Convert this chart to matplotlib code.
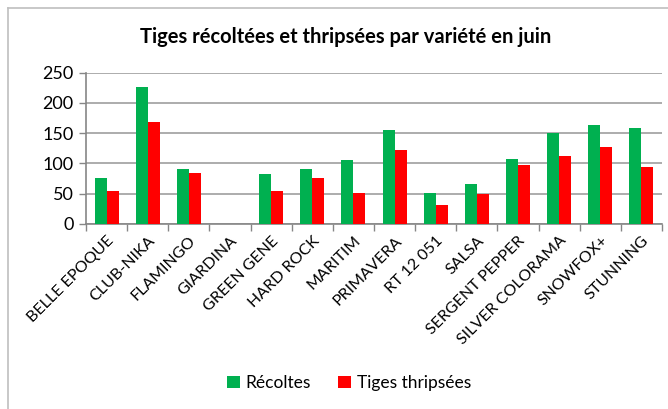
import numpy as np
import matplotlib
matplotlib.use("Agg")
import matplotlib.pyplot as plt
from matplotlib.lines import Line2D

varieties = ["BELLE EPOQUE", "CLUB-NIKA", "FLAMINGO", "GIARDINA", "GREEN GENE",
             "HARD ROCK", "MARITIM", "PRIMAVERA", "RT 12 051", "SALSA",
             "SERGENT PEPPER", "SILVER COLORAMA", "SNOWFOX+", "STUNNING"]
recoltes = [76, 227, 91, 0, 83, 91, 106, 156, 51, 66, 107, 151, 164, 159]
thripsees = [54, 169, 85, 0, 54, 76, 51, 122, 31, 49, 97, 113, 128, 95]
yticks = [0, 50, 100, 150, 200, 250]

plt.rcParams['font.family'] = ['Lato', 'DejaVu Sans']

fig = plt.figure(figsize=(6.68, 4.09), dpi=100)
ax = fig.add_axes([86 / 668, 1 - 224 / 409, 576 / 668, 151.3 / 409])

x = np.arange(len(varieties))
w = 0.29
ax.bar(x - w / 2, recoltes, w, color='#00B050', label='Récoltes', zorder=3)
ax.bar(x + w / 2, thripsees, w, color='#FF0000', label='Tiges thripsées', zorder=3)

ax.set_xlim(-0.5, len(varieties) - 0.5)
ax.set_ylim(0, 250)
ax.set_yticks(yticks)
ax.set_yticklabels([str(t) for t in yticks], fontsize=13)
ax.yaxis.grid(True, color='#A6A6A6', linewidth=1.3, zorder=0)

ax.set_xticks(x)
ax.set_xticklabels(varieties, rotation=45, ha='right', rotation_mode='anchor', fontsize=11.5)
ax.set_xticks(np.arange(len(varieties) + 1) - 0.5, minor=True)
ax.tick_params(axis='x', which='major', length=0, pad=7)
ax.tick_params(axis='x', which='minor', length=5, color='#868686', width=1)
ax.tick_params(axis='y', length=5, color='#868686', width=1, pad=4)

for s in ['top', 'right']:
    ax.spines[s].set_visible(False)
for s in ['left', 'bottom']:
    ax.spines[s].set_color('#868686')
    ax.spines[s].set_linewidth(1.2)

fig.text(346 / 668, 1 - 37 / 409, "Tiges récoltées et thripsées par variété en juin",
         ha='center', va='center', fontsize=14.5, fontweight='bold')

fig.legend(loc='center', bbox_to_anchor=(349 / 668, 1 - 383 / 409), ncol=2,
           frameon=False, fontsize=12.5, handlelength=0.75, handleheight=0.75,
           handletextpad=0.3, columnspacing=1.6)

# chart area border (top and left only visible)
fig.add_artist(Line2D([8 / 668, 1], [1 - 8 / 409] * 2, color='#BFBFBF', linewidth=1.2))
fig.add_artist(Line2D([8 / 668] * 2, [0, 1 - 8 / 409], color='#BFBFBF', linewidth=1.2))

fig.savefig("out.png", dpi=100)
